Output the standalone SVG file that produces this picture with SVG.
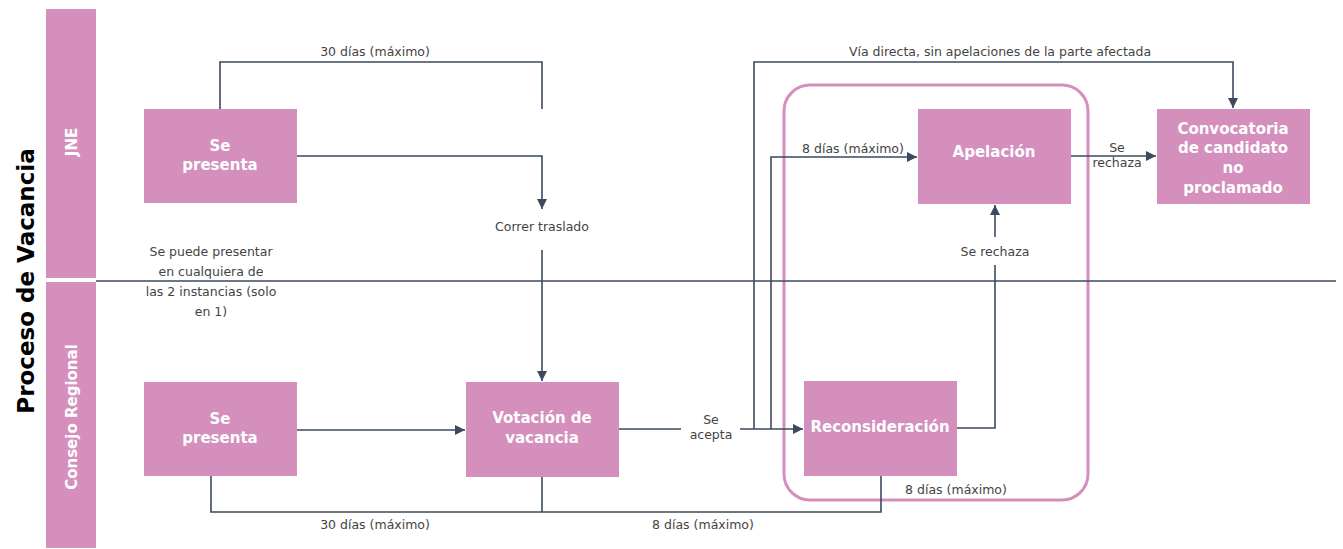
<svg xmlns="http://www.w3.org/2000/svg" width="1343" height="549" viewBox="0 0 1343 549">
<defs>
<style>
.node{fill:#d48fbd;}
.nt{fill:#ffffff;font-family:"DejaVu Sans","Open Sans",sans-serif;font-weight:700;font-size:15px;text-anchor:middle;}
.lbl{fill:#444444;font-family:"DejaVu Sans","Open Sans",sans-serif;font-size:12.5px;text-anchor:middle;}
.ln{fill:none;stroke:#3b4a5e;stroke-width:1.6;}
.lane{fill:#d48fbd;}
</style>
<marker id="arr" viewBox="0 0 10 10" refX="10" refY="5" markerWidth="10" markerHeight="10" markerUnits="userSpaceOnUse" orient="auto">
<path d="M0,0 L10,5 L0,10 Z" fill="#3b4a5e"/>
</marker>
</defs>
<rect x="0" y="0" width="1343" height="549" fill="#ffffff"/>

<g id="title">
<text transform="translate(34,281) rotate(-90)" font-family="'DejaVu Sans','Open Sans',sans-serif" font-weight="700" font-size="23" fill="#000000" text-anchor="middle">Proceso de Vacancia</text>
</g>

<g id="lane-jne">
<rect class="lane" x="46" y="9" width="50" height="269"/>
<text transform="translate(77,142) rotate(-90)" class="nt" font-size="17">JNE</text>
</g>
<g id="lane-consejo">
<rect class="lane" x="46" y="282" width="50" height="266"/>
<text transform="translate(77,417) rotate(-90)" class="nt" font-size="18">Consejo Regional</text>
</g>

<g id="group-box">
<rect x="784" y="85" width="304" height="415" rx="26" ry="26" fill="none" stroke="#d48fbd" stroke-width="3"/>
</g>

<g id="connectors">
<line class="ln" x1="96" y1="281" x2="1336" y2="281"/>
<path class="ln" d="M220,109 V62 H542 V109"/>
<path class="ln" d="M297,156 H542 V209" marker-end="url(#arr)"/>
<path class="ln" d="M542,250 V381" marker-end="url(#arr)"/>
<path class="ln" d="M297,430 H465" marker-end="url(#arr)"/>
<path class="ln" d="M211,476 V512 H881 V476"/>
<path class="ln" d="M542,477 V512"/>
<path class="ln" d="M619,429 H681"/>
<path class="ln" d="M740,429 H803" marker-end="url(#arr)"/>
<path class="ln" d="M754,429 V62 H1233 V108" marker-end="url(#arr)"/>
<path class="ln" d="M771,429 V157 H917" marker-end="url(#arr)"/>
<path class="ln" d="M957,428 H995 V265"/>
<path class="ln" d="M995,237 V205" marker-end="url(#arr)"/>
<path class="ln" d="M1071,156 H1156" marker-end="url(#arr)"/>
</g>

<g id="labels">
<text class="lbl" x="375" y="56">30 días (máximo)</text>
<text class="lbl" x="542" y="231">Correr traslado</text>
<text class="lbl" x="1000" y="56">Vía directa, sin apelaciones de la parte afectada</text>
<text class="lbl" x="853" y="153">8 días (máximo)</text>
<text class="lbl" x="995" y="256">Se rechaza</text>
<text class="lbl" x="1117" y="152">Se</text>
<text class="lbl" x="1117" y="167">rechaza</text>
<text class="lbl" x="711" y="424">Se</text>
<text class="lbl" x="711" y="439">acepta</text>
<text class="lbl" x="375" y="529">30 días (máximo)</text>
<text class="lbl" x="703" y="529">8 días (máximo)</text>
<text class="lbl" x="956" y="494">8 días (máximo)</text>
<text class="lbl" x="211" y="256">Se puede presentar</text>
<text class="lbl" x="211" y="276">en cualquiera de</text>
<text class="lbl" x="211" y="296">las 2 instancias (solo</text>
<text class="lbl" x="211" y="316">en 1)</text>
</g>

<g id="node-jne-presenta">
<rect class="node" x="144" y="109" width="153" height="94"/>
<text class="nt" x="220" y="151">Se</text>
<text class="nt" x="220" y="170">presenta</text>
</g>
<g id="node-cr-presenta">
<rect class="node" x="144" y="382" width="153" height="94"/>
<text class="nt" x="220" y="424">Se</text>
<text class="nt" x="220" y="443">presenta</text>
</g>
<g id="node-votacion">
<rect class="node" x="466" y="382" width="153" height="95"/>
<text class="nt" x="542" y="423">Votación de</text>
<text class="nt" x="542" y="443">vacancia</text>
</g>
<g id="node-reconsideracion">
<rect class="node" x="804" y="381" width="153" height="95"/>
<text class="nt" x="880" y="432">Reconsideración</text>
</g>
<g id="node-apelacion">
<rect class="node" x="918" y="109" width="153" height="95"/>
<text class="nt" x="994" y="157">Apelación</text>
</g>
<g id="node-convocatoria">
<rect class="node" x="1157" y="109" width="153" height="95"/>
<text class="nt" x="1233" y="134">Convocatoria</text>
<text class="nt" x="1233" y="153">de candidato</text>
<text class="nt" x="1233" y="173">no</text>
<text class="nt" x="1233" y="193">proclamado</text>
</g>
</svg>
